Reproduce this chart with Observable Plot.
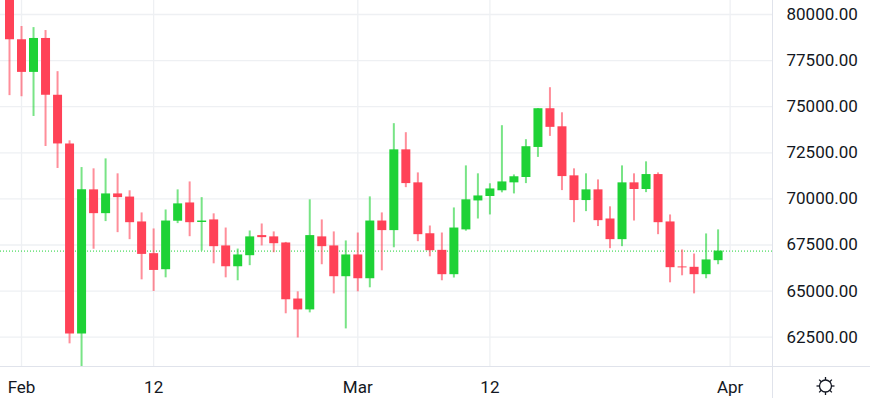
<!DOCTYPE html>
<html><head><meta charset="utf-8">
<script src="https://cdn.jsdelivr.net/npm/d3@7"></script>
<script src="https://cdn.jsdelivr.net/npm/@observablehq/plot@0.6"></script>
<style>html,body{margin:0;padding:0;background:#fff;}</style>
</head><body><div id="chart"></div>
<script>
const dates = ["2025-01-31","2025-02-01","2025-02-02","2025-02-03","2025-02-04","2025-02-05","2025-02-06","2025-02-07","2025-02-08","2025-02-09","2025-02-10","2025-02-11","2025-02-12","2025-02-13","2025-02-14","2025-02-15","2025-02-16","2025-02-17","2025-02-18","2025-02-19","2025-02-20","2025-02-21","2025-02-22","2025-02-23","2025-02-24","2025-02-25","2025-02-26","2025-02-27","2025-02-28","2025-03-01","2025-03-02","2025-03-03","2025-03-04","2025-03-05","2025-03-06","2025-03-07","2025-03-08","2025-03-09","2025-03-10","2025-03-11","2025-03-12","2025-03-13","2025-03-14","2025-03-15","2025-03-16","2025-03-17","2025-03-18","2025-03-19","2025-03-20","2025-03-21","2025-03-22","2025-03-23","2025-03-24","2025-03-25","2025-03-26","2025-03-27","2025-03-28","2025-03-29","2025-03-30","2025-03-31"];
const open  = [81000,78630,76860,78700,75620,72980,62680,70490,69200,70270,70100,68750,67030,66160,68790,69780,68720,68860,67450,66320,66920,68010,67940,67610,64570,63980,67940,67450,65780,66960,65670,68800,68280,72660,70870,68110,67210,65890,68320,69890,70130,70440,70870,71160,72790,74890,73910,71250,69910,70490,68910,67790,70870,70510,71320,68750,66310,66290,65890,66650];
const high  = [81200,79350,79290,79130,76900,73150,71700,71630,72170,71360,70440,69240,68370,69400,70490,70920,70070,69190,68420,67280,68260,68640,68210,67640,64960,69950,68860,68210,67720,68150,70110,69240,74080,73590,71410,68530,68150,69510,71790,71360,70820,73970,71300,73210,74900,76030,74670,71630,71360,71030,69570,71790,71360,72010,71410,69130,67230,67010,68100,68320];
const low   = [75600,75540,74470,72840,71650,62140,60900,67270,68770,68170,67790,65610,64980,65720,68660,67950,67170,66480,65720,65560,66380,67450,67080,63770,62460,63820,66430,64850,62950,64960,65180,66100,67350,70610,67680,66860,65560,65710,68250,68910,69130,70330,70270,70830,72250,73390,70450,68710,69310,68500,67300,67410,68800,70340,68060,65450,65830,64850,65670,66430];
const close = [78630,76860,78700,75620,72980,62680,70490,69200,70270,70070,68710,66990,66120,68800,69730,68710,68800,67410,66320,66960,67940,67900,67570,64530,63980,68010,67410,65780,66960,65670,68800,68280,72660,70830,68060,67190,65890,68420,69950,70160,70540,70920,71200,72830,74890,73880,71210,69910,70490,68820,67790,70870,70510,71320,68710,66270,66260,65890,66690,67170];

const yTicks = [62500,65000,67500,70000,72500,75000,77500,80000];
const xTickDates = ["2025-02-01","2025-02-12","2025-03-01","2025-03-12","2025-04-01"];
const xTickLabels = ["Feb","12","Mar","12","Apr"];

const upColor = "#1ed236", downColor = "#ff4257";

const data = dates.map((d,i)=>({date:new Date(d+"T00:00:00Z"),open:open[i],high:high[i],low:low[i],close:close[i]}));
const tickDates = xTickDates.map(d=>new Date(d+"T00:00:00Z"));
const labelOf = new Map(tickDates.map((d,i)=>[+d, xTickLabels[i]]));
const col = d => d.close >= d.open ? upColor : downColor;
const lastClose = close[close.length-1];

const W = 870, H = 398, MR = 98, MB = 32;
const DAY = 864e5, feb1 = Date.UTC(2025,1,1);
const xDomain = [new Date(feb1 - 1.75*DAY), new Date(feb1 + 62.53*DAY)];
const yDomain = [60911, 80759];

const chart = Plot.plot({
  width: W, height: H,
  marginLeft: 0, marginRight: MR, marginTop: 0, marginBottom: MB,
  style: {fontFamily: "Roboto, sans-serif", fontSize: "17px", color: "#131722", background: "#fff"},
  x: {type: "utc", domain: xDomain},
  y: {domain: yDomain},
  marks: [
    Plot.gridY(yTicks, {stroke: "#eef0f3", strokeOpacity: 1, strokeWidth: 1.3}),
    Plot.gridX(tickDates, {stroke: "#eef0f3", strokeOpacity: 1, strokeWidth: 1.3}),
    Plot.ruleY([lastClose], {stroke: upColor, strokeDasharray: "1,2", strokeWidth: 1}),
    Plot.ruleX(data, {x: "date", y1: "low", y2: "high", stroke: col, strokeWidth: 2, strokeOpacity: 0.6, clip: true}),
    Plot.ruleX(data, {x: "date", y1: "open", y2: "close", stroke: col, strokeWidth: 9, clip: true}),
    Plot.axisY(yTicks, {anchor: "right", tickSize: 0, tickPadding: 14, tickFormat: d => d.toFixed(2), fill: "#131722", label: null}),
    Plot.axisX(tickDates, {anchor: "bottom", tickSize: 0, tickPadding: 14, tickFormat: d => labelOf.get(+d), fill: "#131722", label: null})
  ]
});
const svg = d3.select(chart);
svg.append("line").attr("x1", W - MR + 0.5).attr("x2", W - MR + 0.5).attr("y1", 0).attr("y2", H).attr("stroke", "#e0e3eb");
svg.append("line").attr("x1", 0).attr("x2", W).attr("y1", H - MB + 0.5).attr("y2", H - MB + 0.5).attr("stroke", "#e0e3eb");
// settings (sun) icon
const icon = svg.append("g").attr("transform", "translate(825.5,386)").attr("stroke", "#131722").attr("fill", "none").attr("stroke-width", 1.3);
icon.append("circle").attr("r", 6);
for (let k = 0; k < 8; k++) {
  const a = k * Math.PI / 4;
  icon.append("line").attr("x1", 6 * Math.cos(a)).attr("y1", 6 * Math.sin(a)).attr("x2", 9 * Math.cos(a)).attr("y2", 9 * Math.sin(a));
}
document.getElementById("chart").appendChild(chart);
</script>
</body></html>
